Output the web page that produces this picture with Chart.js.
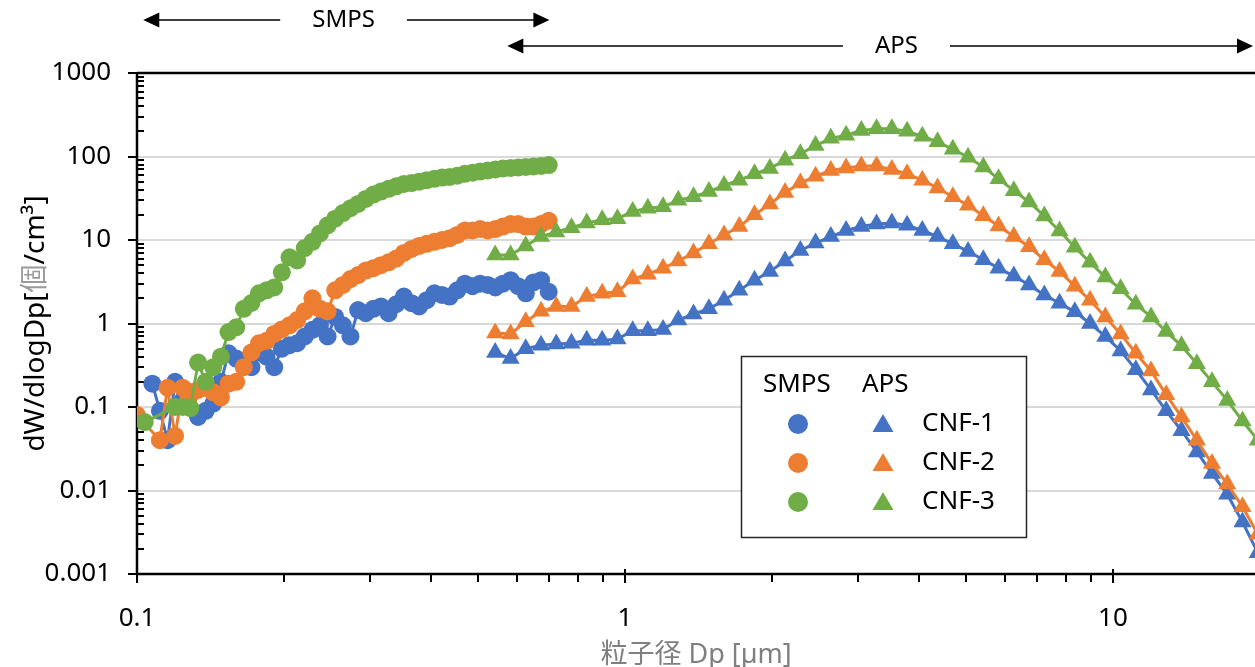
<!DOCTYPE html>
<html>
<head>
<meta charset="utf-8">
<script src="https://cdn.jsdelivr.net/npm/chart.js@4.4.0/dist/chart.umd.min.js"></script>
<style>
  html, body { margin: 0; padding: 0; background: #fff; overflow: hidden; }
  #wrap { width: 1255px; height: 667px; }
</style>
</head>
<body>
<div id="wrap"><canvas id="chart" width="1255" height="667"></canvas></div>
<script>
// 粒径チャンネル (µm)
const SMPS_DP = [0.1, 0.1037, 0.1075, 0.1114, 0.1155, 0.1197, 0.1241, 0.1287, 0.1334, 0.1383,
  0.1433, 0.1486, 0.1540, 0.1597, 0.1655, 0.1716, 0.1778, 0.1843, 0.1911, 0.1981,
  0.2054, 0.2129, 0.2207, 0.2288, 0.2371, 0.2458, 0.2548, 0.2642, 0.2738, 0.2839,
  0.2943, 0.3051, 0.3162, 0.3278, 0.3398, 0.3523, 0.3652, 0.3786, 0.3924, 0.4068,
  0.4217, 0.4372, 0.4532, 0.4698, 0.4870, 0.5049, 0.5234, 0.5425, 0.5623, 0.5830,
  0.6043, 0.6264, 0.6494, 0.6732, 0.6978];

const APS_DP = [0.542, 0.583, 0.626, 0.673, 0.723, 0.777, 0.835, 0.898, 0.965,
  1.037, 1.114, 1.197, 1.286, 1.382, 1.486, 1.596, 1.715, 1.843, 1.981,
  2.129, 2.288, 2.458, 2.642, 2.839, 3.051, 3.278, 3.523, 3.786, 4.068,
  4.371, 4.698, 5.048, 5.425, 5.829, 6.264, 6.732, 7.234, 7.774, 8.354,
  8.977, 9.647, 10.37, 11.14, 11.97, 12.86, 13.82, 14.86, 15.96, 17.15,
  18.43, 19.81];

// SMPS (dW/dlogDp)
const SMPS_CNF1 = [null, null, 0.19, 0.09, 0.04, 0.2, 0.12, 0.15, 0.076, 0.09,
  0.11, 0.2, 0.44, 0.38, 0.33, 0.3, 0.45, 0.4, 0.3, 0.5,
  0.55, 0.58, 0.7, 0.84, 0.95, 0.7, 1.2, 0.95, 0.7, 1.45,
  1.33, 1.5, 1.6, 1.33, 1.7, 2.1, 1.75, 1.6, 1.9, 2.3,
  2.2, 2.1, 2.5, 3.0, 2.8, 3.0, 2.9, 2.7, 3.0, 3.3,
  2.8, 2.3, 3.1, 3.3, 2.4];
const SMPS_CNF2 = [0.08, null, null, 0.04, 0.17, 0.045, 0.17, 0.14, 0.16, 0.17,
  0.15, 0.13, 0.19, 0.2, 0.3, 0.45, 0.58, 0.62, 0.75, 0.85,
  0.95, 1.1, 1.4, 2.0, 1.5, 1.4, 2.5, 2.9, 3.4, 3.8,
  4.3, 4.6, 5.0, 5.4, 6.0, 7.0, 7.8, 8.5, 9.0, 9.5,
  10, 10.5, 11.5, 13, 13, 13.5, 13, 13.5, 14.5, 15.5,
  15.5, 14.5, 14.5, 15.5, 17];
const SMPS_CNF3 = [null, 0.066, null, null, null, 0.1, 0.1, 0.097, 0.34, 0.2,
  0.3, 0.4, 0.79, 0.9, 1.5, 1.76, 2.3, 2.5, 2.7, 4.1,
  6.2, 5.7, 8, 9.5, 12, 15, 18, 21, 24, 27,
  31, 35, 38, 41, 44, 47, 48, 50, 52, 54,
  56, 57, 59, 62, 64, 66, 68, 70, 72, 73,
  74, 75, 76, 77, 79];

// APS (dW/dlogDp)
const APS_CNF1 = [0.45, 0.38, 0.5, 0.55, 0.57, 0.58, 0.63, 0.63, 0.65,
  0.82, 0.82, 0.85, 1.1, 1.3, 1.5, 1.9, 2.5, 3.3, 4.2,
  5.6, 7.5, 9.2, 11, 13, 14.5, 15.5, 16, 15, 13,
  11, 9, 7.3, 5.8, 4.6, 3.7, 2.9, 2.2, 1.75, 1.38,
  1.0, 0.7, 0.47, 0.28, 0.16, 0.09, 0.052, 0.029, 0.016, 0.009,
  0.0042, 0.0018];
const APS_CNF2 = [0.77, 0.75, 1.05, 1.4, 1.6, 1.6, 2.1, 2.3, 2.4,
  3.4, 3.9, 4.6, 5.6, 7, 9, 11.5, 14.5, 20, 27,
  37, 48, 58, 68, 73, 77, 77, 70, 62, 52,
  42, 33, 26, 19.5, 14.7, 11, 8.3, 5.8, 4.2, 2.8,
  1.9, 1.2, 0.75, 0.44, 0.27, 0.14, 0.076, 0.04, 0.021, 0.012,
  0.0064, 0.003];
const APS_CNF3 = [6.6, 6.6, 8.5, 11, 12.5, 14, 16, 17.5, 18,
  22, 24, 25, 30, 33, 38, 45, 52, 62, 72,
  90, 108, 135, 165, 180, 205, 215, 215, 200, 175,
  150, 122, 98, 75, 54, 39, 28.5, 19.4, 12.8, 8.2,
  5.4, 3.6, 2.6, 1.7, 1.2, 0.8, 0.54, 0.33, 0.2, 0.12,
  0.068, 0.04];

const SERIES_NAMES = ['CNF-1', 'CNF-2', 'CNF-3'];
const COLORS = ['#4472C4', '#ED7D31', '#70AD47'];

const Y_TICK_VALUES = [0.001, 0.01, 0.1, 1, 10, 100, 1000];
const Y_TICK_LABELS = ['0.001', '0.01', '0.1', '1', '10', '100', '1000'];
const X_TICK_VALUES = [0.1, 1, 10];
const X_TICK_LABELS = ['0.1', '1', '10'];

const FONT = '"Noto Sans", "Noto Sans CJK JP", sans-serif';

function isDecade(v) {
    const l = Math.log10(v);
    return Math.abs(l - Math.round(l)) < 1e-6;
}
function isIntSig(v) {
    const e = Math.floor(Math.log10(v) + 1e-9);
    const s = v / Math.pow(10, e);
    return Math.abs(s - Math.round(s)) < 1e-6;
}
function labelFor(values, labels, v) {
    const i = values.findIndex(t => Math.abs(Math.log10(t) - Math.log10(v)) < 1e-6);
    return i >= 0 ? labels[i] : '';
}
function toPoints(xs, ys) {
    return xs.map((x, i) => ({ x: x, y: ys[i] })).filter(p => p.y != null);
}

// 矢印 (測定範囲)
function drawRangeArrow(chart, from, to, textAt, label, y) {
    const { ctx, scales: { x } } = chart;
    const x1 = x.getPixelForValue(from);
    const x2 = Math.min(x.getPixelForValue(to), chart.width - 2);
    const xt = x.getPixelForValue(textAt);
    ctx.font = '24px ' + FONT;
    const half = ctx.measureText(label).width / 2 + 32;
    ctx.strokeStyle = '#000';
    ctx.fillStyle = '#000';
    ctx.lineWidth = 1.5;
    ctx.beginPath();
    ctx.moveTo(x1 + 10, y); ctx.lineTo(xt - half, y);
    ctx.moveTo(xt + half, y); ctx.lineTo(x2 - 10, y);
    ctx.stroke();
    ctx.beginPath();
    ctx.moveTo(x1, y); ctx.lineTo(x1 + 16, y - 7.5); ctx.lineTo(x1 + 16, y + 7.5); ctx.closePath();
    ctx.moveTo(x2, y); ctx.lineTo(x2 - 16, y - 7.5); ctx.lineTo(x2 - 16, y + 7.5); ctx.closePath();
    ctx.fill();
    ctx.textAlign = 'center';
    ctx.textBaseline = 'middle';
    ctx.fillText(label, xt, y);
}

const framePlugin = {
    id: 'frame',
    beforeDatasetsDraw(chart) {
        const { ctx, chartArea: a, scales: { x, y } } = chart;
        ctx.save();
        ctx.strokeStyle = '#000';
        ctx.lineWidth = 2.5;
        ctx.beginPath();
        ctx.moveTo(a.left, a.top); ctx.lineTo(a.right, a.top);
        ctx.moveTo(a.left, a.top); ctx.lineTo(a.left, a.bottom);
        ctx.moveTo(a.left - 1, a.bottom); ctx.lineTo(a.right, a.bottom);
        ctx.stroke();
        ctx.lineWidth = 2;
        ctx.beginPath();
        y.ticks.forEach(t => {
            if (!isIntSig(t.value)) return;
            const py = Math.round(y.getPixelForValue(t.value));
            if (isDecade(t.value)) { ctx.moveTo(a.left - 9, py); ctx.lineTo(a.left, py); }
            else { ctx.moveTo(a.left, py); ctx.lineTo(a.left + 7, py); }
        });
        x.ticks.forEach(t => {
            if (!isIntSig(t.value) || t.value > x.max) return;
            const px = Math.round(x.getPixelForValue(t.value));
            if (isDecade(t.value)) { ctx.moveTo(px, a.bottom - 5); ctx.lineTo(px, a.bottom + 9); }
            else { ctx.moveTo(px, a.bottom); ctx.lineTo(px, a.bottom + 8); }
        });
        ctx.stroke();
        ctx.restore();
    },
    afterDraw(chart) {
        const { ctx, chartArea: a } = chart;
        ctx.save();

        // 上部の矢印
        drawRangeArrow(chart, 0.103, 0.70, 0.265, 'SMPS', 20);
        drawRangeArrow(chart, 0.574, 20, 3.6, 'APS', 46);

        // y軸タイトル
        const parts = [['dW/dlogDp[', '#000'], ['個', '#9a9a9a'], ['/cm³]', '#000']];
        ctx.font = '28px ' + FONT;
        const widths = parts.map(p => ctx.measureText(p[0]).width);
        const total = widths.reduce((s, w) => s + w, 0);
        ctx.translate(36, (a.top + a.bottom) / 2);
        ctx.rotate(-Math.PI / 2);
        ctx.textAlign = 'left';
        ctx.textBaseline = 'middle';
        let cx = -total / 2;
        parts.forEach((p, i) => {
            ctx.fillStyle = p[1];
            ctx.fillText(p[0], cx, 0);
            cx += widths[i];
        });
        ctx.setTransform(1, 0, 0, 1, 0, 0);

        // 凡例
        const bx = 741, by = 356, bw = 285, bh = 181;
        ctx.fillStyle = '#fff';
        ctx.fillRect(bx, by, bw, bh);
        ctx.strokeStyle = '#262626';
        ctx.lineWidth = 1.5;
        ctx.strokeRect(bx + 0.5, by + 0.5, bw, bh);
        ctx.font = '26px ' + FONT;
        ctx.fillStyle = '#000';
        ctx.textAlign = 'left';
        ctx.textBaseline = 'middle';
        ctx.fillText('SMPS', bx + 22, by + 29);
        ctx.fillText('APS', bx + 121, by + 29);
        SERIES_NAMES.forEach((name, i) => {
            const ry = by + 68 + i * 39;
            ctx.fillStyle = COLORS[i];
            ctx.beginPath();
            ctx.arc(bx + 57, ry, 10, 0, Math.PI * 2);
            ctx.fill();
            ctx.beginPath();
            ctx.moveTo(bx + 142, ry - 10);
            ctx.lineTo(bx + 152.5, ry + 8);
            ctx.lineTo(bx + 131.5, ry + 8);
            ctx.closePath();
            ctx.fill();
            ctx.fillStyle = '#000';
            ctx.fillText(name, bx + 181, ry);
        });
        ctx.restore();
    }
};

const smpsSeries = [SMPS_CNF1, SMPS_CNF2, SMPS_CNF3];
const apsSeries = [APS_CNF1, APS_CNF2, APS_CNF3];
const datasets = [];
SERIES_NAMES.forEach((name, i) => {
    datasets.push({
        label: 'SMPS ' + name,
        data: toPoints(SMPS_DP, smpsSeries[i]),
        showLine: true,
        borderColor: COLORS[i],
        backgroundColor: COLORS[i],
        borderWidth: 3,
        pointStyle: 'circle',
        pointRadius: 9,
        pointHoverRadius: 9,
        pointBorderWidth: 0,
        order: 10 - i
    });
    datasets.push({
        label: 'APS ' + name,
        data: toPoints(APS_DP, apsSeries[i]),
        showLine: true,
        borderColor: COLORS[i],
        backgroundColor: COLORS[i],
        borderWidth: 3,
        pointStyle: 'triangle',
        pointRadius: 10.5,
        pointHoverRadius: 10.5,
        pointBorderWidth: 0,
        order: 5 - i
    });
});

Chart.defaults.font.family = FONT;
Chart.defaults.font.size = 26;
Chart.defaults.color = '#000';

new Chart(document.getElementById('chart'), {
    type: 'scatter',
    data: { datasets: datasets },
    options: {
        responsive: false,
        devicePixelRatio: 1,
        animation: false,
        layout: { autoPadding: false, padding: { top: 73, right: 0, bottom: 0, left: 0 } },
        plugins: {
            legend: { display: false },
            tooltip: { enabled: false }
        },
        scales: {
            x: {
                type: 'logarithmic',
                min: 0.1,
                max: 19.55,
                grid: { display: false, drawTicks: false },
                border: { display: false },
                ticks: {
                    autoSkip: false,
                    maxRotation: 0,
                    padding: 29,
                    color: '#000',
                    font: { size: 26 },
                    callback: v => labelFor(X_TICK_VALUES, X_TICK_LABELS, v)
                },
                title: {
                    display: true,
                    text: '粒子径 Dp [µm]',
                    color: '#808080',
                    font: { size: 27 },
                    padding: { top: 0, bottom: -5 }
                },
                afterFit: s => { s.height = 93; s.paddingLeft = 0; s.paddingRight = 0; }
            },
            y: {
                type: 'logarithmic',
                min: 0.001,
                max: 1000,
                grid: {
                    drawTicks: false,
                    lineWidth: 2,
                    color: c => (c.tick && isDecade(c.tick.value) && c.tick.value > 0.0015 && c.tick.value < 999)
                        ? '#d9d9d9' : 'rgba(0,0,0,0)'
                },
                border: { display: false },
                ticks: {
                    autoSkip: false,
                    padding: 26,
                    color: '#000',
                    font: { size: 26 },
                    callback: v => labelFor(Y_TICK_VALUES, Y_TICK_LABELS, v)
                },
                afterFit: s => { s.width = 137; s.paddingTop = 0; s.paddingBottom = 0; }
            }
        }
    },
    plugins: [framePlugin]
});
</script>
</body>
</html>
